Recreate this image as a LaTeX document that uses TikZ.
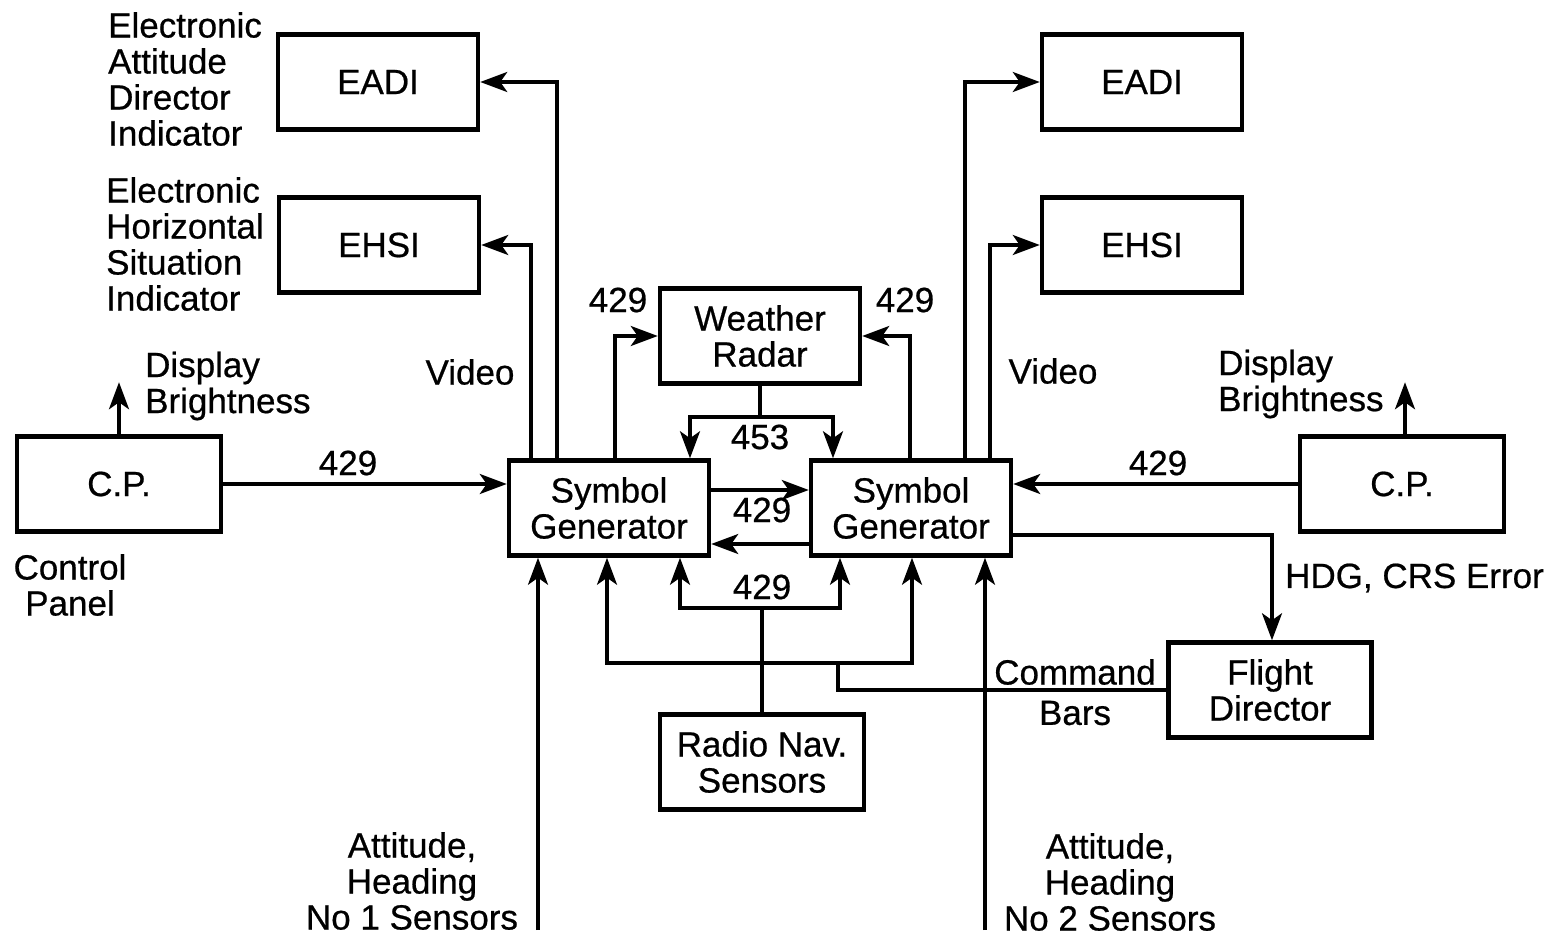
\documentclass[tikz,border=0pt]{standalone}
\usepackage{fontspec}
\setmainfont[FakeBold=0.6,AutoFakeBold=0.6]{Liberation Sans}
\usetikzlibrary{arrows.meta}
\begin{document}
\begin{tikzpicture}[x=1pt,y=-1pt,
  txt/.style={font=\fontsize{35}{36}\selectfont\bfseries, inner sep=0pt},
  blk/.style={draw, line width=4.5pt, minimum width=200pt, minimum height=95pt, align=center, font=\fontsize{35}{36}\selectfont\bfseries, inner sep=0pt},
  wire/.style={line width=3.3pt},
  arr/.style={wire, -{Stealth[length=27pt, width=20pt, inset=7pt]}}]
\useasboundingbox (0,0) rectangle (1551,937);
\fill[white] (0,0) rectangle (1551,937);

% blocks
\node[blk] (eadiL) at (378,82) {EADI};
\node[blk] (ehsiL) at (379,245) {EHSI};
\node[blk] (eadiR) at (1142,82) {EADI};
\node[blk] (ehsiR) at (1142,245) {EHSI};
\node[blk] (wr) at (760,336) {Weather\\Radar};
\node[blk] (sgL) at (609,508) {Symbol\\Generator};
\node[blk] (sgR) at (911,508) {Symbol\\Generator};
\node[blk, minimum width=204pt] (cpL) at (119,484) {C.P.};
\node[blk, minimum width=204pt] (cpR) at (1402,484) {C.P.};
\node[blk, minimum width=203pt] (fd) at (1270,690) {Flight\\Director};
\node[blk, minimum width=204pt] (rn) at (762,762) {Radio Nav.\\Sensors};

% bend / free-end coordinates
\coordinate (b453) at (760,417);
\coordinate (rnj) at (762,608);
\coordinate (cb) at (838,663);
\coordinate (s1) at (538,930);
\coordinate (s2) at (985,930);

% video lines
\draw[arr] ([xshift=-52pt]sgL.north) |- (eadiL.east);
\draw[arr] ([xshift=-78pt]sgL.north) |- (ehsiL.east);
\draw[arr] ([xshift=54pt]sgR.north) |- (eadiR.west);
\draw[arr] ([xshift=79pt]sgR.north) |- (ehsiR.west);

% weather radar
\draw[arr] ([xshift=6pt]sgL.north) |- (wr.west);
\draw[arr] ([xshift=-1pt]sgR.north) |- (wr.east);
\draw[wire] (wr.south) -- (b453);
\draw[arr] (b453) -| ([xshift=81pt]sgL.north);
\draw[arr] (b453) -| ([xshift=-78pt]sgR.north);

% between symbol generators
\draw[arr] ([yshift=18pt]sgL.east) -- ([yshift=18pt]sgR.west);
\draw[arr] ([yshift=-36pt]sgR.west) -- ([yshift=-36pt]sgL.east);

% control panels
\draw[arr] (cpL.east) -- (cpL.east -| sgL.west);
\draw[arr] (cpR.west) -- (cpR.west -| sgR.east);
\draw[arr] (cpL.north) -- ++(0,-52);
\draw[arr] ([xshift=3pt]cpR.north) -- ++(0,-52);

% flight director
\draw[arr] ([yshift=-27pt]sgR.east) -| ([xshift=2pt]fd.north);
\draw[wire] (fd.west) -| (cb);
\draw[arr] (cb) -| ([xshift=-2pt]sgL.south);
\draw[arr] (cb) -| ([xshift=1pt]sgR.south);

% radio nav
\draw[wire] (rn.north) -- (rnj);
\draw[arr] (rnj) -| ([xshift=71pt]sgL.south);
\draw[arr] (rnj) -| ([xshift=-71pt]sgR.south);

% sensors
\draw[arr] (s1) -- (s1 |- sgL.south);
\draw[arr] (s2) -- (s2 |- sgR.south);

% labels
\node[txt] (l1) at (348,463) {429};
\node[txt] (l2) at (618,300) {429};
\node[txt] (l3) at (905,300) {429};
\node[txt] (l4) at (760,437) {453};
\node[txt] (l5) at (762,510) {429};
\node[txt] (l6) at (762,587) {429};
\node[txt] (l7) at (1158,463) {429};
\node[txt] (v1) at (470,372) {Video};
\node[txt] (v2) at (1053,371) {Video};
\node[txt, anchor=west, align=left] (db1) at (145,386) {Display\\Brightness};
\node[txt, anchor=west, align=left] (db2) at (1218,384) {Display\\Brightness};
\node[txt, align=center] (cpn) at (70,585) {Control\\Panel};
\node[txt, anchor=west] (hdg) at (1285,578) {HDG, CRS Error};
\node[txt] (cmd) at (1075,672) {Command};
\node[txt] (bars) at (1075,713) {Bars};
\node[txt, anchor=west, align=left] (eadit) at (108,79) {Electronic\\Attitude\\Director\\Indicator};
\node[txt, anchor=west, align=left] (ehsit) at (106,244) {Electronic\\Horizontal\\Situation\\Indicator};
\node[txt, align=center] (ns1) at (412,881) {Attitude,\\Heading\\No 1 Sensors};
\node[txt, align=center] (ns2) at (1110,882) {Attitude,\\Heading\\No 2 Sensors};
\end{tikzpicture}
\end{document}
